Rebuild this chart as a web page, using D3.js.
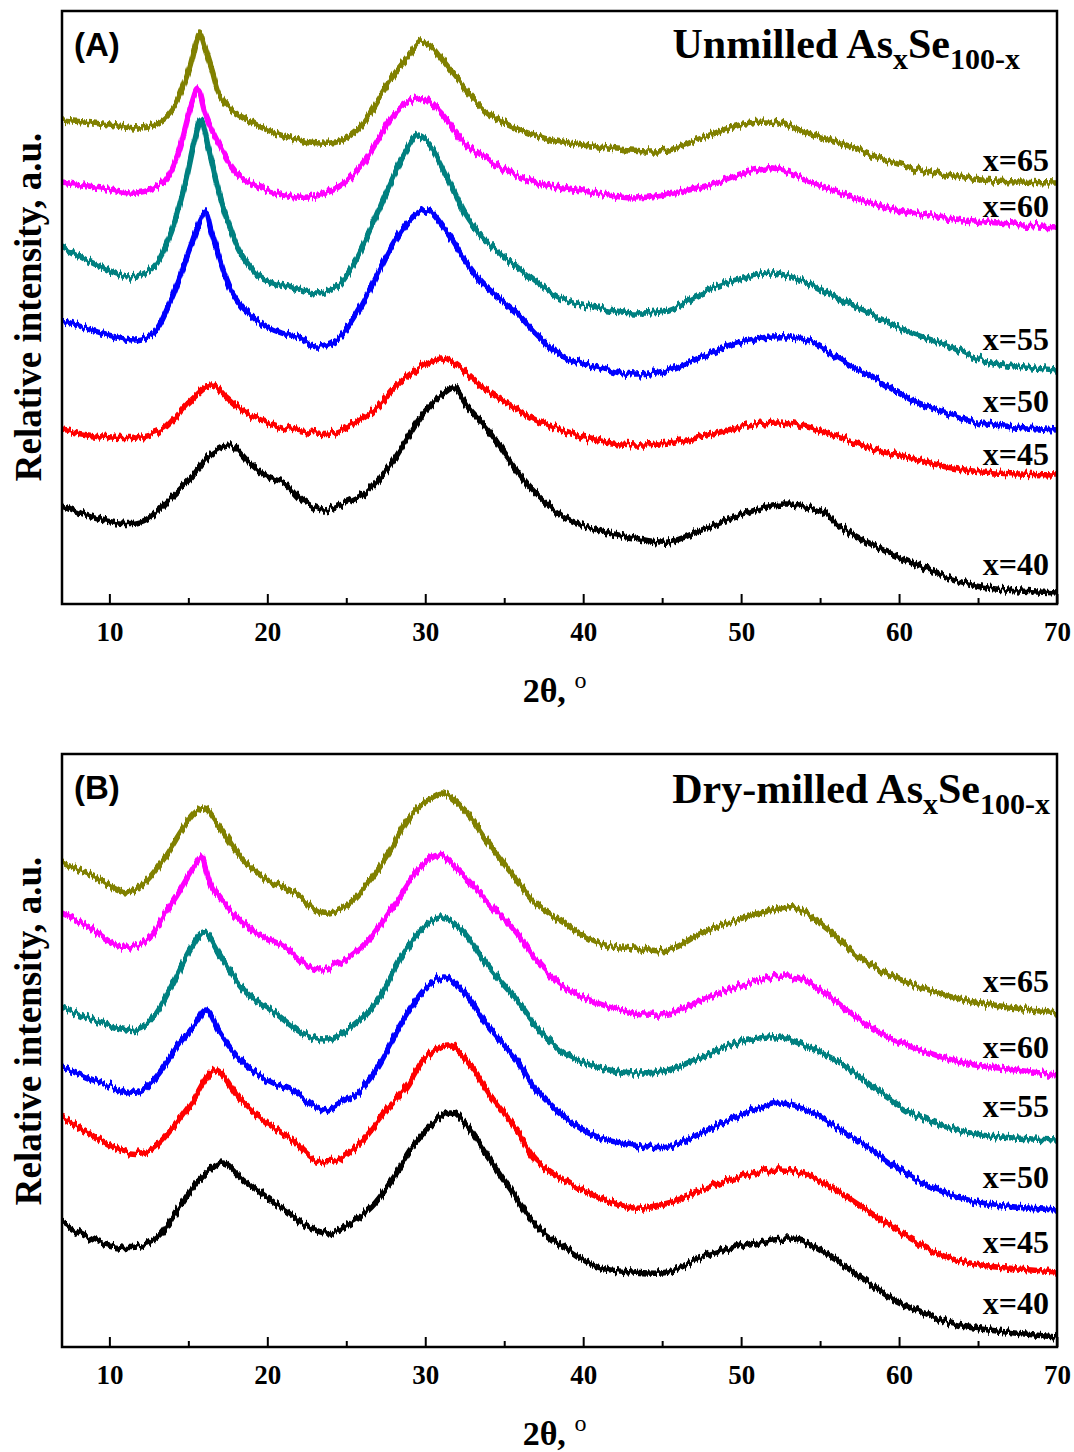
<!DOCTYPE html>
<html>
<head>
<meta charset="utf-8">
<script src="https://cdn.jsdelivr.net/npm/d3@7"></script>
<style>
  body { margin: 0; background: #fff; }
  svg { display: block; }
</style>
</head>
<body>
<div id="chart"></div>
<script>
// ---------------- data (2θ in degrees, relative intensity in a.u., curves already stacked) ----------------
const compositions = ["x=40", "x=45", "x=50", "x=55", "x=60", "x=65"];
const seriesColors = ["#000000", "#ff0000", "#0000ff", "#008080", "#ff00ff", "#808000"];
const xTicks = [10, 20, 30, 40, 50, 60, 70];
const xMinorTicks = [15, 25, 35, 45, 55, 65];

// (A) unmilled
const unmilled40 = [[7,99],[9.5,84],[11.7,81],[12.6,87],[13.9,107],[15.2,127],[16.5,151],[17.7,159],[18.7,144],[20,127],[21.1,121],[22.2,104],[23.5,94],[24.9,101],[26.2,111],[27.7,137],[28.8,164],[29.9,191],[31.2,211],[31.8,216],[32.7,197],[34,174],[35.3,144],[36.6,117],[38.8,87],[40.9,74],[43.2,66],[45.4,62],[47.5,74],[49.7,87],[52,99],[53.7,99],[55.3,91],[56.3,77],[58.6,57],[60.8,41],[63,27],[65.2,17],[70,11]];
const unmilled45 = [[7,174],[9.5,167],[11.7,166],[13.4,174],[15,201],[16.5,219],[17.4,207],[18.7,191],[20.5,179],[22.6,172],[24,171],[25.9,184],[27,197],[28.1,217],[29.7,237],[31,246],[32.1,237],[33.6,217],[35.8,195],[37,184],[39.9,167],[43.2,159],[45.4,161],[47.5,167],[49.7,176],[52.4,181],[54.2,176],[56.3,167],[58.6,154],[60.8,146],[63,137],[65.2,132],[70,129]];
const unmilled50 = [[7,284],[9.5,271],[11.7,264],[12.8,271],[13.9,304],[15,351],[15.9,389],[16.1,392],[16.5,371],[17.8,311],[19.3,284],[20.9,271],[22,267],[23.1,257],[24.4,264],[25.9,297],[27,331],[28.1,364],[29.2,387],[30.1,394],[31.4,371],[32.5,344],[33.6,321],[35.8,291],[37.1,269],[38.8,247],[40.9,237],[43.2,229],[45.4,234],[47.5,247],[49.7,261],[52,267],[54.2,264],[56.3,244],[58.6,224],[60.8,204],[63,191],[65.2,181],[70,174]];
const unmilled55 = [[7,357],[9.5,337],[11.3,327],[12.8,337],[13.9,371],[14.8,421],[15.4,464],[15.8,484],[16.3,454],[17.2,397],[18.3,351],[19.6,327],[21.6,317],[23.1,311],[24.4,317],[25.5,341],[26.6,377],[27.7,417],[28.8,454],[29.5,469],[30.3,459],[31.4,427],[32.5,391],[33.6,367],[35.8,337],[37.1,321],[38.8,304],[40.9,296],[43.2,291],[45.4,294],[47.5,311],[49.7,324],[52,331],[54.2,321],[56.3,304],[58.6,287],[60.8,271],[63,259],[65.2,244],[70,234]];
const unmilled60 = [[7,422],[9.5,416],[11.7,411],[13.4,422],[14.3,449],[15.2,499],[15.6,514],[16.1,489],[16.9,461],[18.3,427],[20.5,411],[22.6,407],[24.4,416],[25.9,437],[27,464],[28.1,491],[29.2,504],[29.9,506],[31,491],[32.5,461],[34.7,437],[37,421],[40.9,411],[43.2,406],[47.5,417],[50.8,434],[52,436],[54.2,424],[56.3,411],[58.6,399],[60.8,391],[63,386],[66.3,381],[70,377]];
const unmilled65 = [[7,484],[9,481],[10,479],[12,476],[13,480],[14,494],[15,532],[15.5,562],[15.7,572],[16,559],[16.5,534],[17,509],[18,491],[19,482],[20,474],[22,464],[24,461],[25,466],[26,479],[27,504],[28,529],[29,549],[29.7,562],[30.5,556],[31,546],[32,526],[33,506],[34,491],[35,481],[36,474],[38,464],[41,457],[43,454],[45.4,454],[47.5,466],[50.2,480],[52.4,481],[54.2,471],[56.3,461],[58.6,447],[60.8,436],[63,429],[65.2,424],[70,421]];

// (B) dry-milled
const dryMilled40 = [[7,124],[9.5,104],[11.7,100],[13.1,110],[14.3,137],[15.7,167],[17.2,184],[18.3,170],[19.6,154],[21.1,137],[22.6,120],[23.8,114],[25.3,124],[26.6,140],[27.9,167],[29.2,200],[30.5,224],[31.6,235],[32.7,220],[34,190],[35.3,160],[37,122],[38.8,100],[40.9,80],[43.2,75],[45.4,75],[47.5,90],[49.7,100],[52,107],[53.7,107],[55.3,94],[57.2,74],[59.4,50],[61.6,34],[63.7,22],[66.8,15],[70,10]];
const dryMilled45 = [[7,230],[9.1,210],[11.3,194],[12.6,197],[13.9,217],[15.2,244],[16.7,277],[18.3,247],[20,224],[21.6,207],[23.1,187],[24.4,187],[25.9,204],[27.4,234],[28.8,260],[30,289],[31.5,302],[33,279],[34.2,250],[35.8,217],[37,187],[38.8,167],[40.9,150],[43.2,139],[45.4,144],[47.5,157],[49.7,170],[52.4,177],[54.2,172],[56.3,154],[58.6,130],[60.8,107],[63,90],[65.2,82],[70,75]];
const dryMilled50 = [[7,280],[9.5,264],[11.7,254],[12.8,267],[14.3,300],[15.5,324],[16.1,337],[17,314],[18.3,287],[20,267],[21.8,254],[23.5,237],[24.9,247],[25.7,254],[27,280],[28.5,324],[30.1,360],[31.2,370],[32.5,354],[34,320],[35.8,287],[37,257],[38.8,230],[40.9,210],[43.2,202],[45.4,200],[47.5,214],[49.7,230],[52.4,244],[54.2,237],[56.3,217],[58.6,194],[60.8,170],[63,154],[65.2,144],[70,137]];
const dryMilled55 = [[7,340],[9.5,324],[11.7,317],[12.8,330],[13.9,360],[15.2,400],[16,415],[17.2,387],[18.7,354],[20.5,334],[22.2,314],[23.8,307],[25.3,320],[27,347],[28.5,390],[29.9,420],[31,430],[32.3,417],[34,380],[35.8,347],[37,322],[38.8,294],[40.9,280],[43.2,274],[45.4,277],[47.5,290],[49.7,304],[52.4,310],[54.2,300],[56.3,284],[58.6,257],[60.8,234],[63,220],[65.2,212],[70,207]];
const dryMilled60 = [[7,434],[8.7,420],[10.8,400],[12.4,407],[13.4,430],[14.6,460],[15.5,484],[15.8,490],[16.5,460],[17.8,434],[19.3,414],[21.1,400],[22.6,380],[23.5,377],[24.9,387],[26.4,407],[28.1,444],[29.7,480],[30.9,492],[32.1,477],[34,444],[35.8,414],[37,387],[38.8,360],[40.9,344],[43.2,334],[45.4,334],[47.5,347],[49.7,360],[52,370],[53.5,370],[55.3,354],[57.5,327],[59.7,307],[61.9,294],[64.1,284],[67.4,277],[70,272]];
const dryMilled65 = [[7,484],[9.1,470],[11.1,454],[12.2,464],[13.4,487],[14.6,517],[15.4,534],[16,539],[17,520],[18.3,490],[20,467],[21.8,454],[23.5,434],[24.9,440],[26.4,464],[27.7,494],[29.2,534],[30.5,550],[31.1,554],[32.5,537],[34,504],[35.8,467],[37,444],[38.8,424],[40.9,404],[43.2,399],[45.4,397],[47.5,414],[49.7,427],[52,437],[53.3,440],[55.3,420],[57.5,390],[59.7,370],[61.9,357],[64.1,347],[67.4,339],[70,334]];

// label heights (a.u.) next to each curve, same order as compositions
const unmilledLabelLevels = [40, 150, 203, 265, 398, 444];
const dryMilledLabelLevels = [44, 105, 170, 241, 300, 366];

const panels = [
    { tag: "(A)", title: "Unmilled", series: [unmilled40, unmilled45, unmilled50, unmilled55, unmilled60, unmilled65],
      labels: unmilledLabelLevels, top: 11, titleRight: 1020, titleBase: 58, yTitleCenter: 307 },
    { tag: "(B)", title: "Dry-milled", series: [dryMilled40, dryMilled45, dryMilled50, dryMilled55, dryMilled60, dryMilled65],
      labels: dryMilledLabelLevels, top: 754, titleRight: 1050, titleBase: 803, yTitleCenter: 1031 }
];

// ---------------- layout ----------------
const W = 1074, H = 1452;
const left = 62, right = 1057, plotH = 593;
const serif = "'Liberation Serif', 'Times New Roman', serif";
const sans = "'Liberation Sans', Arial, sans-serif";

const svg = d3.select("#chart").append("svg")
    .attr("width", W)
    .attr("height", H);

// 模擬量測雜訊的紋理 (only a rendering texture, data stay as read)
const defs = svg.append("defs");
const flt = defs.append("filter")
    .attr("id", "grain")
    .attr("filterUnits", "userSpaceOnUse")
    .attr("x", 0).attr("y", 0).attr("width", W).attr("height", H);
flt.append("feTurbulence")
    .attr("type", "fractalNoise")
    .attr("baseFrequency", "0.4 0.015")
    .attr("numOctaves", 2)
    .attr("seed", 7)
    .attr("result", "turb");
flt.append("feColorMatrix")
    .attr("in", "turb")
    .attr("type", "matrix")
    .attr("values", "0 0 0 0 0.5  0 1 0 0 0  0 0 0 0 0  0 0 0 0 1")
    .attr("result", "disp");
flt.append("feDisplacementMap")
    .attr("in", "SourceGraphic")
    .attr("in2", "disp")
    .attr("scale", 11)
    .attr("xChannelSelector", "R")
    .attr("yChannelSelector", "G");

const x = d3.scaleLinear().domain([7, 70]).range([left, right]);

panels.forEach((p, pi) => {
    const bottom = p.top + plotH;
    const y = d3.scaleLinear().domain([0, plotH]).range([bottom, p.top]);

    defs.append("clipPath").attr("id", "clip" + pi)
        .append("rect")
        .attr("x", left).attr("y", p.top)
        .attr("width", right - left).attr("height", plotH);

    const g = svg.append("g");

    // curves (x=65 first so x=40 ends on top)
    const line = d3.line()
        .x(d => x(d[0]))
        .y(d => y(d[1]))
        .curve(d3.curveCatmullRom.alpha(0.5));

    const curves = g.append("g")
        .attr("clip-path", `url(#clip${pi})`)
        .append("g")
        .attr("filter", "url(#grain)");

    for (let i = p.series.length - 1; i >= 0; i--) {
        curves.append("path")
            .datum(p.series[i])
            .attr("d", line)
            .attr("fill", "none")
            .attr("stroke", seriesColors[i])
            .attr("stroke-width", 5.5)
            .attr("stroke-linejoin", "round");
    }

    // major / minor ticks pointing inward
    const major = g.append("g")
        .attr("transform", `translate(0,${bottom})`)
        .call(d3.axisBottom(x).tickValues(xTicks).tickSize(-10).tickPadding(18).tickFormat(d3.format("d")));
    major.select(".domain").remove();
    major.selectAll(".tick line").attr("stroke", "#000").attr("stroke-width", 2);
    major.selectAll(".tick text")
        .attr("font-family", serif)
        .attr("font-weight", "bold")
        .attr("font-size", 27)
        .attr("fill", "#000");

    const minor = g.append("g")
        .attr("transform", `translate(0,${bottom})`)
        .call(d3.axisBottom(x).tickValues(xMinorTicks).tickSize(-6).tickFormat(""));
    minor.select(".domain").remove();
    minor.selectAll(".tick line").attr("stroke", "#000").attr("stroke-width", 2);

    // frame
    g.append("rect")
        .attr("x", left).attr("y", p.top)
        .attr("width", right - left).attr("height", plotH)
        .attr("fill", "none")
        .attr("stroke", "#000")
        .attr("stroke-width", 2.5);

    // composition labels
    g.selectAll(".comp")
        .data(compositions)
        .join("text")
        .attr("class", "comp")
        .attr("x", 1049)
        .attr("y", (d, i) => y(p.labels[i]))
        .attr("dy", "0.35em")
        .attr("text-anchor", "end")
        .attr("font-family", serif)
        .attr("font-weight", "bold")
        .attr("font-size", 32)
        .text(d => d);

    // panel tag
    g.append("text")
        .attr("x", 74)
        .attr("y", p.top + 45)
        .attr("font-family", sans)
        .attr("font-weight", "bold")
        .attr("font-size", 33)
        .text(p.tag);

    // title with subscripts
    const t = g.append("text")
        .attr("x", p.titleRight)
        .attr("y", p.titleBase)
        .attr("text-anchor", "end")
        .attr("font-family", serif)
        .attr("font-weight", "bold")
        .attr("font-size", 42);
    t.append("tspan").text(p.title + " As");
    t.append("tspan").attr("font-size", 30).attr("dy", 11).text("x");
    t.append("tspan").attr("dy", -11).text("Se");
    t.append("tspan").attr("font-size", 30).attr("dy", 11).text("100-x");

    // x title
    const xt = g.append("text")
        .attr("x", (left + right) / 2 - 5)
        .attr("y", bottom + 98)
        .attr("text-anchor", "middle")
        .attr("font-family", serif)
        .attr("font-weight", "bold")
        .attr("font-size", 34);
    xt.append("tspan").text("2θ, ");
    xt.append("tspan").attr("font-size", 24).attr("font-weight", "normal").attr("dy", -14).text("o");

    // y title
    g.append("text")
        .attr("transform", `translate(28,${p.yTitleCenter}) rotate(-90)`)
        .attr("text-anchor", "middle")
        .attr("dy", "0.35em")
        .attr("font-family", serif)
        .attr("font-weight", "bold")
        .attr("font-size", 37)
        .text("Relative intensity, a.u.");
});
</script>
</body>
</html>
